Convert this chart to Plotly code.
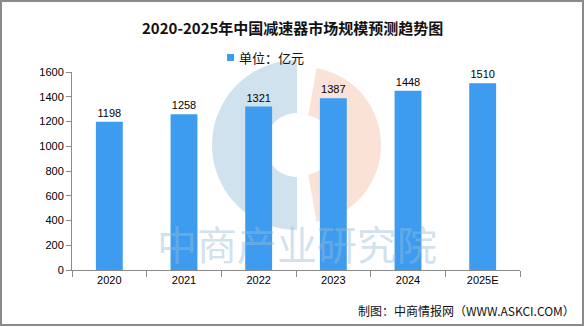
import math
import plotly.graph_objects as go

years = ["2020", "2021", "2022", "2023", "2024", "2025E"]
market_size = [1198, 1258, 1321, 1387, 1448, 1510]
y_ticks = [0, 200, 400, 600, 800, 1000, 1200, 1400, 1600]
bar_color = "#3d9bf0"

W, H = 585, 327
L, R, T, B = 72, 65, 72, 57
PW, PH = W - L - R, H - T - B


def px(x):
    return (x - L) / PW


def py(y):
    return (H - B - y) / PH


def arc_path(cx, cy, r_out, r_in, a0, a1, n=40):
    pts = []
    for i in range(n + 1):
        a = math.radians(a0 + (a1 - a0) * i / n)
        pts.append((cx + r_out * math.cos(a), cy - r_out * math.sin(a)))
    for i in range(n + 1):
        a = math.radians(a1 - (a1 - a0) * i / n)
        pts.append((cx + r_in * math.cos(a), cy - r_in * math.sin(a)))
    d = "M " + " L ".join(f"{px(x):.4f},{py(y):.4f}" for x, y in pts) + " Z"
    return d


fig = go.Figure()
fig.add_trace(go.Bar(
    x=years, y=market_size, name="单位：亿元",
    marker=dict(color=bar_color, line=dict(width=0)),
    text=[str(v) for v in market_size], textposition="outside",
    textfont=dict(size=11, color="#000000", family="Liberation Sans"),
    cliponaxis=False, showlegend=False,
))

shapes = [
    dict(type="path", xref="paper", yref="paper", layer="below",
         path=arc_path(297, 145, 85, 32, 90, 270),
         fillcolor="rgba(150,190,215,0.45)", line=dict(width=0)),
    dict(type="path", xref="paper", yref="paper", layer="below",
         path=arc_path(303, 145, 78, 30, -80, 80),
         fillcolor="rgba(245,190,165,0.45)", line=dict(width=0)),
    # legend swatch
    dict(type="rect", xref="paper", yref="paper",
         x0=px(227), x1=px(234), y0=py(61), y1=py(54),
         fillcolor=bar_color, line=dict(width=0)),
    dict(type="rect", xref="paper", yref="paper",
         x0=px(1), x1=px(W - 2), y0=py(H - 2), y1=py(1),
         line=dict(color="#8a8a8a", width=2), fillcolor="rgba(0,0,0,0)"),
]

annotations = [
    dict(text="中商产业研究院", xref="paper", yref="paper",
         x=px(297), y=py(243), showarrow=False,
         font=dict(size=40, color="rgba(150,190,215,0.45)",
                   family="Noto Sans CJK SC"), xanchor="center", yanchor="middle"),
    dict(text="<b>2020-2025年中国减速器市场规模预测趋势图</b>", xref="paper", yref="paper",
         x=px(292), y=py(28), showarrow=False,
         font=dict(size=15, color="#111111", family="Noto Sans CJK SC"),
         xanchor="center", yanchor="middle"),
    dict(text="单位：亿元", xref="paper", yref="paper",
         x=px(237), y=py(57), showarrow=False,
         font=dict(size=13, color="#111111", family="Noto Sans CJK SC"),
         xanchor="left", yanchor="middle"),
    dict(text="制图：中商情报网（WWW.ASKCI.COM）", xref="paper", yref="paper",
         x=px(577), y=py(310), showarrow=False,
         font=dict(size=12, color="#111111", family="Noto Sans CJK SC"),
         xanchor="right", yanchor="middle"),
]

fig.update_layout(
    width=W, height=H,
    margin=dict(l=L, r=R, t=T, b=B),
    paper_bgcolor="#ffffff", plot_bgcolor="rgba(0,0,0,0)",
    bargap=0.64,
    showlegend=False,
    shapes=shapes, annotations=annotations,
    xaxis=dict(type="category", showline=True, linecolor="#8a8a8a", linewidth=1,
               ticks="outside", tickson="boundaries", ticklen=6, tickcolor="#8a8a8a",
               showgrid=False, tickfont=dict(size=11, color="#000000", family="Liberation Sans")),
    yaxis=dict(range=[0, 1600], tickvals=y_ticks, showline=True, linecolor="#8a8a8a",
               linewidth=1, ticks="outside", ticklen=5, tickcolor="#8a8a8a",
               showgrid=False, zeroline=False,
               tickfont=dict(size=11, color="#000000", family="Liberation Sans")),
)

fig.write_html("out.html")
